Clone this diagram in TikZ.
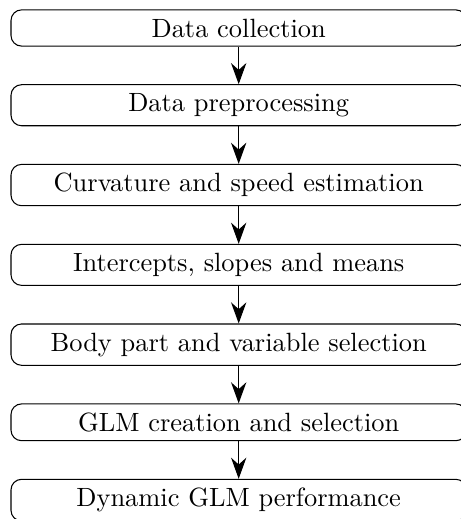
\documentclass[tikz,border=0pt]{standalone}
\usepackage{tikz}
\usetikzlibrary{arrows.meta,positioning}

\begin{document}
\begin{tikzpicture}[node distance = 0.5cm,
  stage/.style = {draw, rounded corners = 4pt, minimum width = 172.5pt},
  flow/.style = {-{Stealth[length = 8pt, width = 5.8pt, inset = 2.6pt]}}]
% crop as in the original
\useasboundingbox (-90.42pt, 10.6pt) rectangle ++(174.6pt, -196.6pt);
%\draw [help lines] (-3, -7) grid (3, 1);
\node [stage] (collect) at (0, 0) {Data collection};
\node [stage, below = of collect] (prep) {Data preprocessing};
\node [stage, below = of prep] (curv) {Curvature and speed estimation};
\node [stage, below = of curv] (means) {Intercepts, slopes and means};
\node [stage, below = of means] (body) {Body part and variable selection};
\node [stage, below = of body] (glm) {GLM creation and selection};
\node [stage, below = of glm] (dyn) {Dynamic GLM performance};
\draw [flow] (collect) -- (prep);
\draw [flow] (prep) -- (curv);
\draw [flow] (curv) -- (means);
\draw [flow] (means) -- (body);
\draw [flow] (body) -- (glm);
\draw [flow] (glm) -- (dyn);
\end{tikzpicture}
\end{document}
